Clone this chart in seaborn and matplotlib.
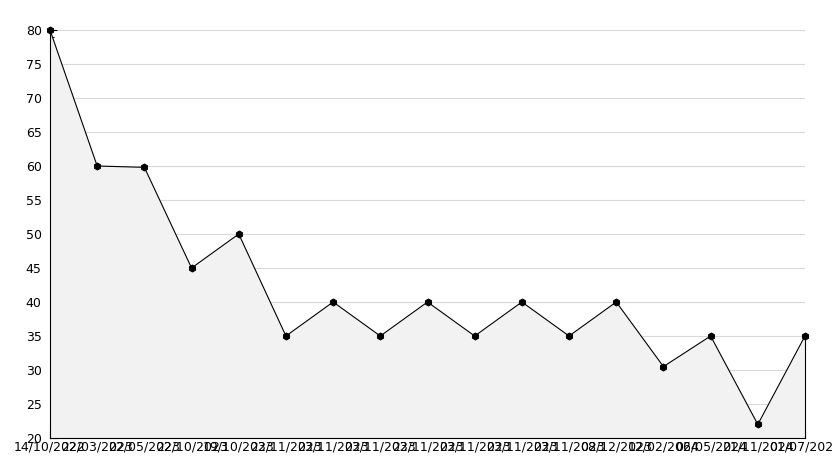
import numpy as np
import pandas as pd
import matplotlib
matplotlib.use("Agg")
import matplotlib.pyplot as plt
from matplotlib.ticker import MultipleLocator
import seaborn as sns

# -------------------- data --------------------
dates = [
    "14/10/2022", "22/03/2023", "22/05/2023", "22/10/2023", "19/10/2023",
    "23/11/2023", "23/11/2023", "23/11/2023", "23/11/2023", "23/11/2023",
    "23/11/2023", "23/11/2023", "08/12/2023", "12/02/2024", "06/05/2024",
    "21/11/2024", "01/07/2025",
]
values = [80, 60, 59.8, 45, 50, 35, 40, 35, 40, 35, 40, 35, 40, 30.5, 35, 22, 35]

df = pd.DataFrame({"pos": np.arange(len(values)), "value": values})

# -------------------- plot --------------------
sns.set_style("white")
plt.rcParams["font.family"] = ["DejaVu Sans"]
plt.rcParams["text.color"] = "black"
plt.rcParams["xtick.color"] = "black"
plt.rcParams["ytick.color"] = "black"

fig = plt.figure(figsize=(8.34, 4.68), dpi=100)
ax = fig.add_axes([50 / 834, 30 / 468, 755 / 834, 408 / 468])

# horizontal grid behind the filled area
ax.yaxis.grid(True, which="major", color="#d9d9d9", linewidth=0.8, zorder=0)
ax.set_axisbelow(True)

ax.fill_between(df["pos"], df["value"], 20, color="#f2f2f2", zorder=1, linewidth=0)
ax.plot([df["pos"].iloc[-1]] * 2, [20, df["value"].iloc[-1]], color="black",
        lw=0.8, zorder=2, clip_on=False)

sns.lineplot(data=df, x="pos", y="value", ax=ax, color="black", linewidth=0.8,
             marker="h", markersize=5, markeredgecolor="black", zorder=3,
             clip_on=False)

ax.set_xlim(0, len(values) - 1)
ax.set_ylim(20, 80)
ax.set_xticks(df["pos"])
ax.set_xticklabels(dates, fontsize=9)
ax.yaxis.set_major_locator(MultipleLocator(5))
ax.yaxis.set_minor_locator(MultipleLocator(1))
ax.tick_params(axis="y", which="major", direction="in", length=5, width=0.8,
               labelsize=9, pad=6, left=True)
ax.tick_params(axis="y", which="minor", direction="in", length=3, width=0.8, left=True)
ax.tick_params(axis="x", which="major", direction="in", length=5, width=0.8,
               labelsize=9, pad=2, bottom=True)
ax.set_xlabel("")
ax.set_ylabel("")

for side in ["top", "right"]:
    ax.spines[side].set_visible(False)
for side in ["left", "bottom"]:
    ax.spines[side].set_color("black")
    ax.spines[side].set_linewidth(0.8)

fig.savefig("out.png", dpi=100)
